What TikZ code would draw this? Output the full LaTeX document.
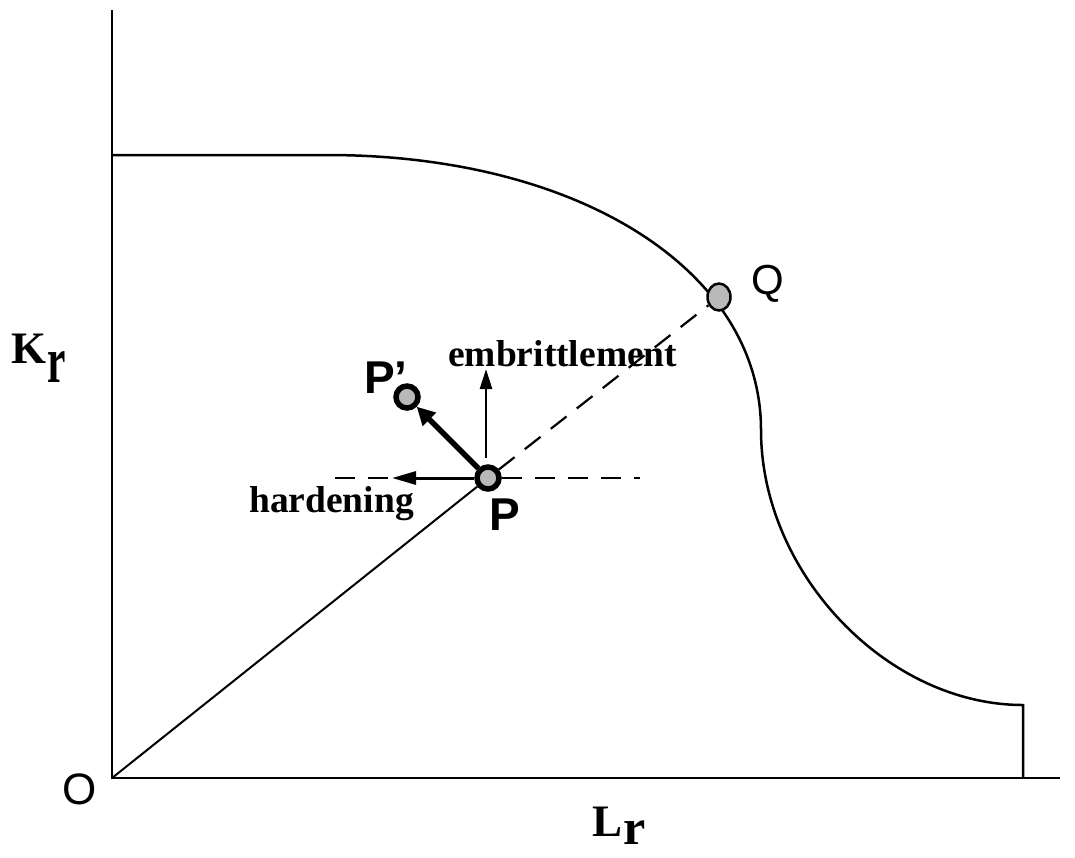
\documentclass[tikz,border=0pt]{standalone}
\usepackage{fontspec}
\setmainfont{Liberation Serif}
\newfontfamily\hv{Liberation Sans}
\usetikzlibrary{arrows.meta,shapes.geometric}
\begin{document}
\begin{tikzpicture}[x=1pt,y=-1pt,
  ln/.style={line width=2.5pt},
  dsh/.style={line width=2.2pt, dash pattern=on 20pt off 13pt},
  ptc/.style={circle, draw, line width=5.5pt, fill=gray!55, minimum size=22pt, inner sep=0pt},
  lbl/.style={anchor=base west, inner sep=0pt, font=\fontsize{37.5}{40}\selectfont\bfseries},
  sflbl/.style={anchor=base west, inner sep=0pt, font=\fontsize{46}{48}\selectfont\hv\bfseries},
  axlbl/.style={anchor=base west, inner sep=0pt, font=\fontsize{45}{46}\selectfont\bfseries},
  thinarrow/.style={line width=2.5pt, -{Triangle[length=20pt,width=12pt]}},
]
\useasboundingbox (0,0) rectangle (1075,857);
% axes
\coordinate (O) at (112,778);
\coordinate (ytop) at (112,10);
\coordinate (xend) at (1060,778);
\draw[ln] (ytop) -- (O) -- (xend);
% failure curve
\coordinate (c0) at (112,155);
\coordinate (c1) at (327,155);
\coordinate (c2) at (761,430);
\coordinate (c3) at (1023,705);
\coordinate (c4) at (1023,778);
\draw[ln] (c0) -- (c1)
  .. controls (579,155) and (761,270.5) .. (c2)
  .. controls (761,573) and (887,705) .. (c3) -- (c4);
% points
\node[ptc] (P) at (488,478) {};
\node[ptc] (Pp) at (407,397) {};
\node[ellipse, draw, line width=2.5pt, fill=gray!55, minimum width=23pt, minimum height=27pt, inner sep=0pt] (Q) at (719,297) {};
% lines
\draw[line width=2pt] (O) -- (P);
\draw[dsh] (P) -- (Q);
\coordinate (hl) at (335,478);
\coordinate (hr) at (640,478);
\draw[dsh] (hl) -- (P) -- (hr);
% arrows
\coordinate (hardtip) at (392,478);
\draw[line width=3pt, -{Triangle[length=24pt,width=13pt]}] (P) -- (hardtip);
\coordinate (ebase) at (486,458);
\coordinate (etip) at (486,369);
\draw[thinarrow] (ebase) -- (etip);
\draw[line width=5.5pt, -{Triangle[length=18pt,width=18pt]}] (P) -- (Pp);
% labels
\node[lbl] (emb) at (448,366) {embrittlement};
\node[lbl] (hard) at (249,512) {hardening};
\node[sflbl] (Plbl) at (364,393) {P’};
\node[sflbl] (Plbl2) at (489,530) {P};
\node[anchor=base west, inner sep=0pt, font=\fontsize{42}{44}\selectfont\hv] (Qlbl) at (751,294) {Q};
\node[anchor=base west, inner sep=0pt, font=\fontsize{44}{46}\selectfont\hv] (Olbl) at (62,804) {O};
\node[axlbl] (Kr) at (11,363) {K\kern1pt\raisebox{-19pt}{\scalebox{0.92}[1.45]{r}}};
\node[axlbl] (Lr) at (592,836) {L\kern1pt\raisebox{-8pt}{\fontsize{50}{52}\selectfont r}};
\end{tikzpicture}
\end{document}
